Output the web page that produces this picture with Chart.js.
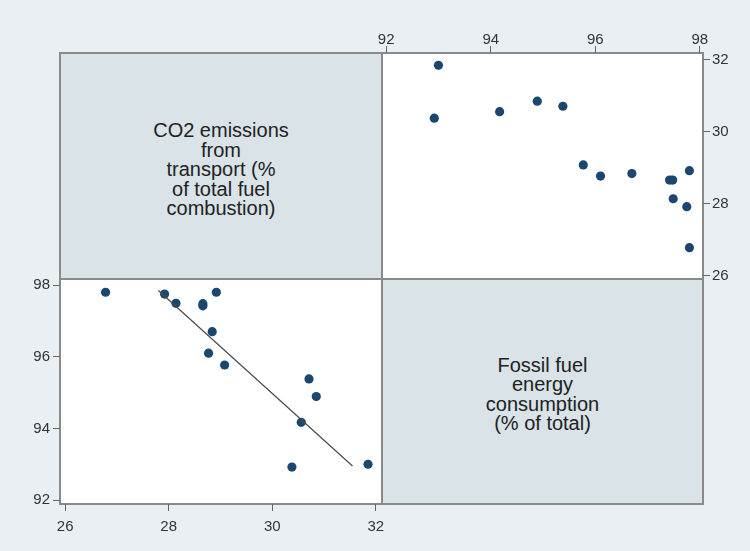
<!DOCTYPE html>
<html>
<head>
<meta charset="utf-8">
<script src="https://cdn.jsdelivr.net/npm/chart.js@4.4.1/dist/chart.umd.min.js"></script>
<style>
  html, body { margin: 0; padding: 0; background: #e9eff2; }
  #matrix { position: relative; width: 750px; height: 551px; font-family: "Liberation Sans", Arial, sans-serif; }
  .cell { position: absolute; box-sizing: border-box; }
  .plot { background: #ffffff; }
  .label { background: #d9e3e8; display: flex; align-items: center; justify-content: center;
           text-align: center; font-size: 20px; line-height: 19.5px; color: #222; }
  .rule { position: absolute; background: #8a8a8a; }
  canvas { position: absolute; }
</style>
</head>
<body>
<div id="matrix">
  <div class="cell label" style="left:60px;top:53px;width:322px;height:226px;">
    <div style="margin-top:8px">CO2 emissions<br>from<br>transport (%<br>of total fuel<br>combustion)</div>
  </div>
  <div class="cell plot" style="left:382px;top:53px;width:321px;height:226px;"></div>
  <div class="cell plot" style="left:60px;top:279px;width:322px;height:225px;"></div>
  <div class="cell label" style="left:382px;top:279px;width:321px;height:225px;">
    <div style="margin-top:6px">Fossil fuel<br>energy<br>consumption<br>(% of total)</div>
  </div>

  <!-- frame and dividers -->
  <div class="rule" style="left:59px;top:52px;width:645px;height:2px;"></div>
  <div class="rule" style="left:59px;top:503px;width:645px;height:2px;"></div>
  <div class="rule" style="left:59px;top:52px;width:2px;height:453px;"></div>
  <div class="rule" style="left:702px;top:52px;width:2px;height:453px;"></div>
  <div class="rule" style="left:381px;top:52px;width:2px;height:453px;"></div>
  <div class="rule" style="left:59px;top:278px;width:645px;height:2px;"></div>

  <canvas id="tr" width="388" height="282" style="left:362px;top:0px;"></canvas>
  <canvas id="bl" width="400" height="275" style="left:0px;top:276px;"></canvas>
</div>

<script>
// one observation per year
const co2 =    [31.85, 30.38, 30.56, 30.85, 30.71, 29.08, 28.77, 28.84, 28.66, 28.66, 28.92, 28.14, 27.92, 26.78];
const fossil = [93.00, 92.92, 94.17, 94.89, 95.38, 95.77, 96.10, 96.70, 97.42, 97.48, 97.80, 97.49, 97.75, 97.80];

// fitted line drawn in the lower panel
const fitCo2 =    [27.80, 31.55];
const fitFossil = [97.85, 92.95];

const co2Ticks = [26, 28, 30, 32];
const fossilTicks = [92, 94, 96, 98];

const navy = "#1a476f";
const tickFont = { family: "'Liberation Sans', Arial, sans-serif", size: 15 };
const tickColor = "#333333";

const setTicks = (values) => (scale) => {
  scale.ticks = values.map((v) => ({ value: v }));
};

// fixed-size axis so each chart area lines up with its panel
const axis = (position, min, max, values, size, pad) => ({
  type: "linear",
  position: position,
  min: min,
  max: max,
  afterBuildTicks: setTicks(values),
  afterFit: (scale) => {
    if (position === "top" || position === "bottom") scale.height = size;
    else scale.width = size;
    scale.paddingLeft = scale.paddingRight = scale.paddingTop = scale.paddingBottom = 0;
  },
  grid: { drawOnChartArea: false, drawTicks: true, tickLength: 7, color: "#666666", lineWidth: 1 },
  border: { display: false },
  ticks: { font: tickFont, color: tickColor, padding: pad },
});

const common = {
  responsive: false,
  animation: false,
  plugins: { legend: { display: false }, tooltip: { enabled: false } },
};

// upper right: CO2 share against fossil share
new Chart("tr", {
  type: "scatter",
  data: {
    datasets: [
      {
        data: fossil.map((f, i) => ({ x: f, y: co2[i] })),
        backgroundColor: navy,
        borderColor: navy,
        pointRadius: 4.6,
        borderWidth: 0,
      },
    ],
  },
  options: {
    ...common,
    layout: { autoPadding: false, padding: { top: 0, left: 20, right: 0, bottom: 3 } },
    scales: {
      x: axis("top", 91.92, 98.06, fossilTicks, 53, -3),
      y: axis("right", 25.91, 32.19, co2Ticks, 47, 2),
    },
  },
});

// lower left: fossil share against CO2 share, with the fit
new Chart("bl", {
  type: "scatter",
  data: {
    datasets: [
      {
        type: "line",
        data: fitCo2.map((c, i) => ({ x: c, y: fitFossil[i] })),
        borderColor: "#4a4a4a",
        borderWidth: 1.2,
        pointRadius: 0,
        fill: false,
      },
      {
        data: co2.map((c, i) => ({ x: c, y: fossil[i] })),
        backgroundColor: navy,
        borderColor: navy,
        pointRadius: 4.6,
        borderWidth: 0,
      },
    ],
  },
  options: {
    ...common,
    layout: { autoPadding: false, padding: { top: 3, left: 0, right: 18, bottom: 0 } },
    scales: {
      x: axis("bottom", 25.9, 32.12, co2Ticks, 47, 7),
      y: axis("left", 91.89, 98.17, fossilTicks, 60, 3),
    },
  },
});
</script>
</body>
</html>
